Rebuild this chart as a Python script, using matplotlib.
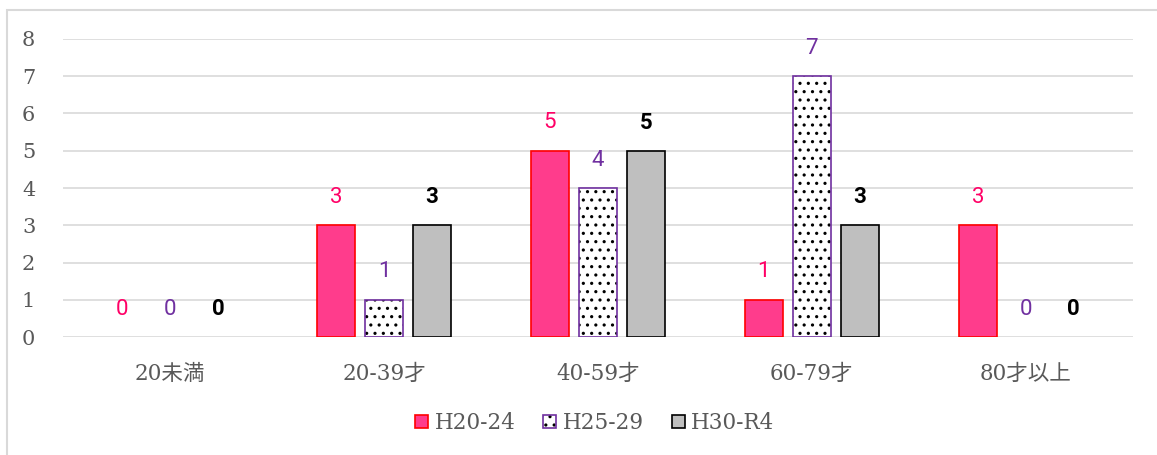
"""
年齢区分別の件数を期間ごとに比較する棒グラフ
"""

import numpy as np
import matplotlib.pyplot as plt
from matplotlib.patches import Patch, Rectangle
from matplotlib.legend_handler import HandlerTuple

plt.switch_backend('agg')

# データ
categories = ['20未満', '20-39才', '40-59才', '60-79才', '80才以上']
series_names = ['H20-24', 'H25-29', 'H30-R4']
h20_24 = [0, 3, 5, 1, 3]
h25_29 = [0, 1, 4, 7, 0]
h30_r4 = [0, 3, 5, 3, 0]
y_ticks = [0, 1, 2, 3, 4, 5, 6, 7, 8]

PINK = '#FF3C8C'
PURPLE = '#7030A0'
GRAY = '#BFBFBF'
GRID = '#D9D9D9'
TEXT = '#595959'

SERIF_JP = ['DejaVu Serif', 'Noto Sans CJK JP']
LABEL_FONT = ['Roboto']

plt.rcParams['hatch.linewidth'] = 1.1

fig = plt.figure(figsize=(11.57, 4.55), dpi=100)
ax = fig.add_axes([0.0545, 0.2593, 0.9245, 0.655])

# 外枠
fig.patches.append(Rectangle((7 / 1157, -0.1), 1.2, 1.1 - 10 / 455,
                             transform=fig.transFigure, fill=False,
                             edgecolor=GRID, linewidth=1.5, zorder=0))

x = np.arange(len(categories))
width = 0.178
offset = 0.224

for i, v in enumerate(h20_24):
    if v > 0:
        ax.bar(x[i] - offset, v, width, color=PINK, edgecolor='#FF0000',
               linewidth=1.2, zorder=3)
    ax.text(x[i] - offset, v + 0.75, str(v), ha='center', va='center',
            color='#FF0066', fontsize=16, family=LABEL_FONT)

for i, v in enumerate(h25_29):
    if v > 0:
        ax.bar(x[i], v, width, color='white', edgecolor='black', hatch='..',
               linewidth=0, zorder=3)
        ax.bar(x[i], v, width, fill=False, edgecolor=PURPLE,
               linewidth=1.2, zorder=4)
    ax.text(x[i], v + 0.75, str(v), ha='center', va='center',
            color=PURPLE, fontsize=16, family=LABEL_FONT)

for i, v in enumerate(h30_r4):
    if v > 0:
        ax.bar(x[i] + offset, v, width, color=GRAY, edgecolor='black',
               linewidth=1.2, zorder=3)
    ax.text(x[i] + offset, v + 0.75, str(v), ha='center', va='center',
            color='black', fontsize=16, fontweight='bold', family=LABEL_FONT)

ax.set_xlim(-0.5, len(categories) - 0.5)
ax.set_ylim(0, 8)
ax.set_yticks(y_ticks)
ax.set_yticklabels([str(t) for t in y_ticks], family=SERIF_JP, fontsize=15,
                   color=TEXT)
ax.set_xticks(x)
ax.set_xticklabels(categories, family=SERIF_JP, fontsize=15.5, color=TEXT)
ax.tick_params(axis='both', length=0)
ax.tick_params(axis='y', pad=20)
ax.tick_params(axis='x', pad=19)

ax.grid(axis='y', color=GRID, linewidth=1.2, zorder=0)
ax.set_axisbelow(True)
for s in ax.spines.values():
    s.set_visible(False)

# 凡例
handles = [
    Patch(facecolor=PINK, edgecolor='#FF0000', linewidth=1.2),
    (Patch(facecolor='white', edgecolor='black', hatch='..', linewidth=0),
     Patch(facecolor='none', edgecolor=PURPLE, linewidth=1.2)),
    Patch(facecolor=GRAY, edgecolor='black', linewidth=1.2),
]
fig.legend(handles, series_names, loc='center', bbox_to_anchor=(0.514, 0.07),
           ncol=3, frameon=False, handlelength=0.6, handleheight=0.6,
           handletextpad=0.3, columnspacing=1.3,
           handler_map={tuple: HandlerTuple(ndivide=1)},
           prop={'family': SERIF_JP, 'size': 15.5}, labelcolor=TEXT)

fig.savefig('out.png', dpi=100)
plt.close(fig)
